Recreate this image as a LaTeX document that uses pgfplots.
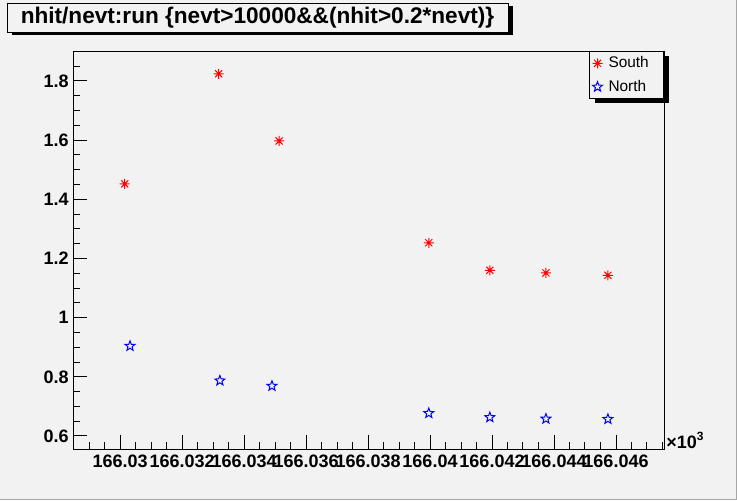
\documentclass[border=0pt]{standalone}
\usepackage{fontspec}
\setmainfont{Liberation Sans}
\usepackage{pgfplots}
\pgfplotsset{compat=1.18}
\usetikzlibrary{shadows}
\definecolor{bg}{RGB}{242,242,242}
\definecolor{rootred}{RGB}{255,0,0}
\definecolor{rootblue}{RGB}{0,0,255}
\pgfdeclareplotmark{rootast}{%
  \pgfpathmoveto{\pgfqpoint{-\pgfplotmarksize}{0pt}}%
  \pgfpathlineto{\pgfqpoint{\pgfplotmarksize}{0pt}}%
  \pgfpathmoveto{\pgfqpoint{0pt}{-\pgfplotmarksize}}%
  \pgfpathlineto{\pgfqpoint{0pt}{\pgfplotmarksize}}%
  \pgfpathmoveto{\pgfpointpolar{45}{\pgfplotmarksize}}%
  \pgfpathlineto{\pgfpointpolar{225}{\pgfplotmarksize}}%
  \pgfpathmoveto{\pgfpointpolar{135}{\pgfplotmarksize}}%
  \pgfpathlineto{\pgfpointpolar{315}{\pgfplotmarksize}}%
  \pgfusepathqstroke}
\pgfdeclareplotmark{ostar}{%
  \pgfpathmoveto{\pgfpointpolar{90}{\pgfplotmarksize}}%
  \pgfpathlineto{\pgfpointpolar{126}{0.42\pgfplotmarksize}}%
  \pgfpathlineto{\pgfpointpolar{162}{\pgfplotmarksize}}%
  \pgfpathlineto{\pgfpointpolar{198}{0.42\pgfplotmarksize}}%
  \pgfpathlineto{\pgfpointpolar{234}{\pgfplotmarksize}}%
  \pgfpathlineto{\pgfpointpolar{270}{0.42\pgfplotmarksize}}%
  \pgfpathlineto{\pgfpointpolar{306}{\pgfplotmarksize}}%
  \pgfpathlineto{\pgfpointpolar{342}{0.42\pgfplotmarksize}}%
  \pgfpathlineto{\pgfpointpolar{18}{\pgfplotmarksize}}%
  \pgfpathlineto{\pgfpointpolar{54}{0.42\pgfplotmarksize}}%
  \pgfpathclose
  \pgfusepathqstroke}

\pgfplotstableread{
x y
166030.15 1.452
166033.18 1.824
166035.13 1.597
166039.96 1.253
166041.93 1.160
166043.74 1.151
166045.74 1.143
}\south
\pgfplotstableread{
x y
166030.32 0.904
166033.22 0.787
166034.90 0.769
166039.96 0.677
166041.93 0.663
166043.74 0.658
166045.74 0.657
}\north

\begin{document}
\begin{tikzpicture}
\useasboundingbox (0,0) rectangle (368.5pt,250pt);
\fill[bg] (0,0) rectangle (368.5pt,250pt);
\draw[gray!70, line width=0.6pt] (368.2pt,250pt) -- (368.2pt,0.3pt) -- (0,0.3pt);
\begin{axis}[
  at={(36.5pt,25.5pt)}, anchor=south west,
  scale only axis, width=295.5pt, height=199pt,
  xmin=166028.48, xmax=166047.55,
  ymin=0.556, ymax=1.901,
  axis background/.style={fill=bg},
  axis line style={line width=0.5pt},
  tick pos=left, tick align=inside,
  major tick length=7pt, minor tick length=3.5pt,
  every tick/.style={black, line width=0.5pt},
  xtick={166030,166032,166034,166036,166038,166040,166042,166044,166046},
  xticklabels={166.03,166.032,166.034,166.036,166.038,166.04,166.042,166.044,166.046},
  minor xtick={166029,166029.5,166030.5,166031,166031.5,166032.5,166033,166033.5,166034.5,166035,166035.5,166036.5,166037,166037.5,166038.5,166039,166039.5,166040.5,166041,166041.5,166042.5,166043,166043.5,166044.5,166045,166045.5,166046.5,166047,166047.5},
  ytick={0.6,0.8,1,1.2,1.4,1.6,1.8},
  yticklabels={0.6,0.8,1,1.2,1.4,1.6,1.8},
  minor ytick={0.65,0.7,0.75,0.85,0.9,0.95,1.05,1.1,1.15,1.25,1.3,1.35,1.45,1.5,1.55,1.65,1.7,1.75,1.85},
  scaled x ticks=false,
  xticklabel style={font=\bfseries\fontsize{9}{10}\selectfont, inner sep=0pt, anchor=north, yshift=-3pt},
  yticklabel style={font=\bfseries\fontsize{9}{10}\selectfont, inner sep=0pt, anchor=east, xshift=-2pt},
  legend style={at={(rel axis cs:1,1)}, anchor=north east, draw=black, line width=0.5pt,
    fill=bg, font=\fontsize{7.7}{9}\selectfont, inner xsep=1.5pt, inner ysep=2.25pt,
    row sep=4.5pt, column sep=3pt,
    nodes={inner sep=0pt, text height=5.8pt, text depth=1.5pt},
    drop shadow={shadow xshift=2.5pt, shadow yshift=-2pt, opacity=1, fill=black}},
  legend cell align=left,
  legend image code/.code={\draw[#1, line width=0.5pt] plot coordinates {(0pt,0pt)};},
  clip=false,
]
\addplot[only marks, mark=rootast, mark size=2.5pt, rootred, line width=0.5pt] table[x=x,y=y] {\south};
\addlegendentry{\makebox[26pt][l]{South}}
\addplot[only marks, mark=ostar, mark size=2.6pt, rootblue, line width=0.5pt] table[x=x,y=y] {\north};
\addlegendentry{\makebox[26pt][l]{North}}
\node[anchor=base west, inner sep=0pt, font=\bfseries\fontsize{9}{10}\selectfont] at ([xshift=1pt,yshift=0.5pt]rel axis cs:1,0) {×10\textsuperscript{3}};
\end{axis}
\node[draw=black, line width=0.5pt, fill=bg, minimum width=250.5pt, minimum height=14.5pt, inner sep=0pt,
  drop shadow={shadow xshift=2.5pt, shadow yshift=-1.5pt, opacity=1, fill=black},
  font=\bfseries\fontsize{11.3}{13}\selectfont] at (128.75pt,241.25pt) {nhit/nevt:run \{nevt>10000\&\&(nhit>0.2*nevt)\}};
\end{tikzpicture}
\end{document}
